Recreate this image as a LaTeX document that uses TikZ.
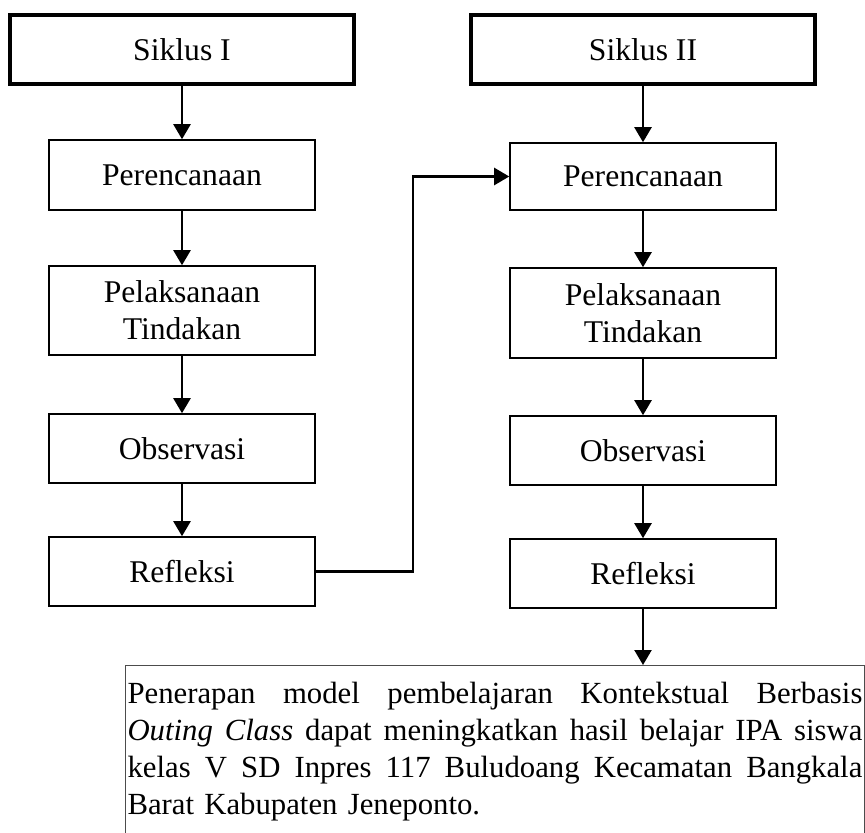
\documentclass[tikz,border=0pt]{standalone}
\usepackage{fontspec}
\setmainfont{Liberation Serif}
\usetikzlibrary{arrows.meta,positioning}

\newcommand{\fullline}[1]{\makebox[14.7cm][s]{\spaceskip=0.25em plus 2em minus 0.08em #1}}

\begin{document}
\begin{tikzpicture}[
    x=0.02cm, y=-0.02cm,
    font=\fontsize{18}{21}\selectfont,
    box/.style={rectangle, draw, line width=0.9pt, minimum width=5.32cm, minimum height=#1, align=center, inner sep=0pt},
    box/.default=1.4cm,
    siklus/.style={rectangle, draw, line width=2.6pt, minimum width=6.88cm, minimum height=1.38cm, inner sep=0pt},
    hasilbox/.style={rectangle, draw=black!70, line width=0.6pt, text width=14.7cm, inner xsep=0.04cm, inner ysep=0.34cm, align=left, font=\fontsize{17.5}{21}\selectfont},
    arrow/.style={-{Triangle[width=0.34cm,length=0.3cm]}, line width=1.3pt}
]
    \useasboundingbox (0,0) rectangle (865,832);
    \clip (0,0) rectangle (865,832);

    % Siklus I
    \node[siklus] (sik1) at (182,49.5) {Siklus I};
    \node[box] (per1) at (182,175) {Perencanaan};
    \node[box=1.78cm] (pel1) at (182,310.5) {Pelaksanaan\\Tindakan};
    \node[box=1.38cm] (obs1) at (182,448.5) {Observasi};
    \node[box=1.38cm] (ref1) at (182,571.5) {Refleksi};

    % Siklus II
    \node[siklus] (sik2) at (643,49.5) {Siklus II};
    \node[box=1.34cm] (per2) at (643,176.5) {Perencanaan};
    \node[box=1.8cm] (pel2) at (643,313) {Pelaksanaan\\Tindakan};
    \node[box=1.38cm] (obs2) at (643,450.5) {Observasi};
    \node[box=1.38cm] (ref2) at (643,573.5) {Refleksi};

    % Kesimpulan
    \node[hasilbox, anchor=north west] (hasil) at (125,665) {\fullline{Penerapan model pembelajaran Kontekstual Berbasis}\\
        \fullline{\textit{Outing Class} dapat meningkatkan hasil belajar IPA siswa}\\
        \fullline{kelas V SD Inpres 117 Buludoang Kecamatan Bangkala}\\
        Barat Kabupaten Jeneponto.};

    % Connections
    \draw[arrow] (sik1) -- (per1);
    \draw[arrow] (per1) -- (pel1);
    \draw[arrow] (pel1) -- (obs1);
    \draw[arrow] (obs1) -- (ref1);
    \draw[arrow] (sik2) -- (per2);
    \draw[arrow] (per2) -- (pel2);
    \draw[arrow] (pel2) -- (obs2);
    \draw[arrow] (obs2) -- (ref2);
    \coordinate (bend) at (413,176.5);
    \draw[arrow] (ref1.east) -| (bend) -- (per2.west);
    \draw[arrow] (ref2.south) -- (ref2.south |- hasil.north);
\end{tikzpicture}
\end{document}
